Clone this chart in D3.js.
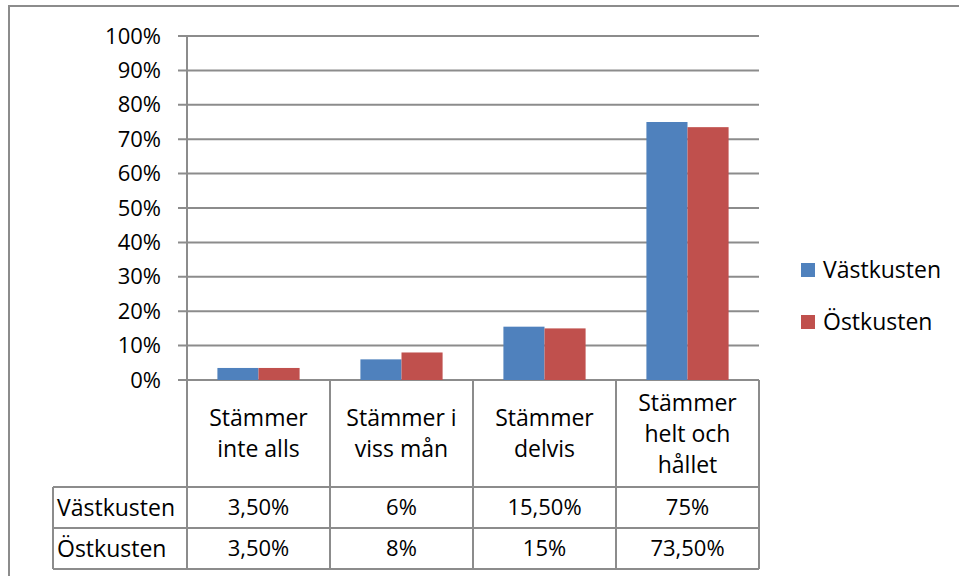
<!DOCTYPE html>
<html>
<head>
<meta charset="utf-8">
<script src="https://cdn.jsdelivr.net/npm/d3@7"></script>
<style>
  body { margin: 0; background: #fff; }
  svg text { font-family: 'Open Sans', 'Noto Sans', sans-serif; fill: #000; }
</style>
</head>
<body>
<div class="chart"></div>
<script>
// data
const categories = [
  ['Stämmer', 'inte alls'],
  ['Stämmer i', 'viss mån'],
  ['Stämmer', 'delvis'],
  ['Stämmer', 'helt och', 'hållet'],
];
const seriesNames = ['Västkusten', 'Östkusten'];
const vastkusten = [3.5, 6, 15.5, 75];
const ostkusten = [3.5, 8, 15, 73.5];
const vastLabels = ['3,50%', '6%', '15,50%', '75%'];
const ostLabels = ['3,50%', '8%', '15%', '73,50%'];
const yTicks = [0, 10, 20, 30, 40, 50, 60, 70, 80, 90, 100];

const colors = ['#4f81bd', '#c0504d'];
const lineColor = '#8c8c8c';

const width = 959;
const height = 576;

const svg = d3
  .select('div.chart')
  .append('svg')
  .attr('width', width)
  .attr('height', height);

// chart border (continues past the picture edge)
svg
  .append('rect')
  .attr('x', 9)
  .attr('y', 6)
  .attr('width', 1000)
  .attr('height', 700)
  .attr('fill', 'none')
  .attr('stroke', lineColor)
  .attr('stroke-width', 2);

const plotLeft = 187;
const plotRight = 759;

const x0 = d3
  .scaleBand()
  .domain(d3.range(categories.length))
  .range([plotLeft, plotRight]);

const x1 = d3
  .scaleBand()
  .domain(seriesNames)
  .range([0, x0.bandwidth()])
  .paddingOuter(0.74);

const y = d3.scaleLinear().domain([0, 100]).range([380, 36]);

// gridlines
svg
  .selectAll('.grid')
  .data(yTicks)
  .enter()
  .append('line')
  .attr('class', 'grid')
  .attr('x1', plotLeft - 9)
  .attr('x2', plotRight)
  .attr('y1', (d) => y(d))
  .attr('y2', (d) => y(d))
  .attr('stroke', lineColor)
  .attr('stroke-width', 2);

// y axis labels
const yAxis = d3
  .axisLeft(y)
  .tickValues(yTicks)
  .tickSize(0)
  .tickPadding(26)
  .tickFormat((d) => d + '%');

svg
  .append('g')
  .attr('transform', `translate(${plotLeft},0)`)
  .call(yAxis)
  .call((g) => g.select('.domain').remove())
  .selectAll('text')
  .attr('font-size', 22)
  .attr('font-family', "'Open Sans', sans-serif");

// bars
const series = [vastkusten, ostkusten];
series.forEach((values, si) => {
  svg
    .selectAll('.bar-' + si)
    .data(values)
    .enter()
    .append('rect')
    .attr('class', 'bar-' + si)
    .attr('x', (d, i) => x0(i) + x1(seriesNames[si]))
    .attr('width', x1.bandwidth())
    .attr('y', (d) => y(d))
    .attr('height', (d) => y(0) - y(d))
    .attr('fill', colors[si]);
});

// data table
const rowTop = 487;
const rowH = 41;
const labelLeft = 53;
const tableBottom = rowTop + rowH * 2;

const tableLines = svg.append('g').attr('stroke', lineColor).attr('stroke-width', 2);

// vertical axis line running down through the header
tableLines
  .append('line')
  .attr('x1', plotLeft)
  .attr('x2', plotLeft)
  .attr('y1', y(100))
  .attr('y2', tableBottom);

d3.range(categories.length).forEach((i) => {
  const xr = x0(i) + x0.bandwidth();
  tableLines
    .append('line')
    .attr('x1', xr)
    .attr('x2', xr)
    .attr('y1', y(0))
    .attr('y2', tableBottom);
});

tableLines
  .append('line')
  .attr('x1', labelLeft)
  .attr('x2', labelLeft)
  .attr('y1', rowTop)
  .attr('y2', tableBottom);

[rowTop, rowTop + rowH, tableBottom].forEach((yy) => {
  tableLines
    .append('line')
    .attr('x1', labelLeft)
    .attr('x2', plotRight)
    .attr('y1', yy)
    .attr('y2', yy);
});

// header cells
const lineH = 31;
const headerMid = (y(0) + rowTop) / 2;
categories.forEach((lines, i) => {
  const t = svg
    .append('text')
    .attr('text-anchor', 'middle')
    .attr('font-size', 23)
    .attr('x', x0(i) + x0.bandwidth() / 2);
  lines.forEach((line, li) => {
    t.append('tspan')
      .attr('x', x0(i) + x0.bandwidth() / 2)
      .attr('y', headerMid + (li - (lines.length - 1) / 2) * lineH)
      .attr('dy', '0.35em')
      .text(line);
  });
});

// value rows
const rows = [vastLabels, ostLabels];
rows.forEach((labels, ri) => {
  const cy = rowTop + rowH * ri + rowH / 2;
  svg
    .append('text')
    .attr('x', labelLeft + 4)
    .attr('y', cy)
    .attr('dy', '0.35em')
    .attr('font-size', 23)
    .text(seriesNames[ri]);

  svg
    .selectAll('.cell-' + ri)
    .data(labels)
    .enter()
    .append('text')
    .attr('class', 'cell-' + ri)
    .attr('text-anchor', 'middle')
    .attr('x', (d, i) => x0(i) + x0.bandwidth() / 2)
    .attr('y', cy)
    .attr('dy', '0.35em')
    .attr('font-size', 22)
    .text((d) => d);
});

// legend
const legend = svg
  .selectAll('.legend')
  .data(seriesNames)
  .enter()
  .append('g')
  .attr('class', 'legend')
  .attr('transform', (d, i) => `translate(801,${270 + i * 52})`);

legend
  .append('rect')
  .attr('x', 0)
  .attr('y', -7)
  .attr('width', 14)
  .attr('height', 14)
  .attr('fill', (d, i) => colors[i]);

legend
  .append('text')
  .attr('x', 22)
  .attr('y', 0)
  .attr('dy', '0.35em')
  .attr('font-size', 23)
  .text((d) => d);
</script>
</body>
</html>
